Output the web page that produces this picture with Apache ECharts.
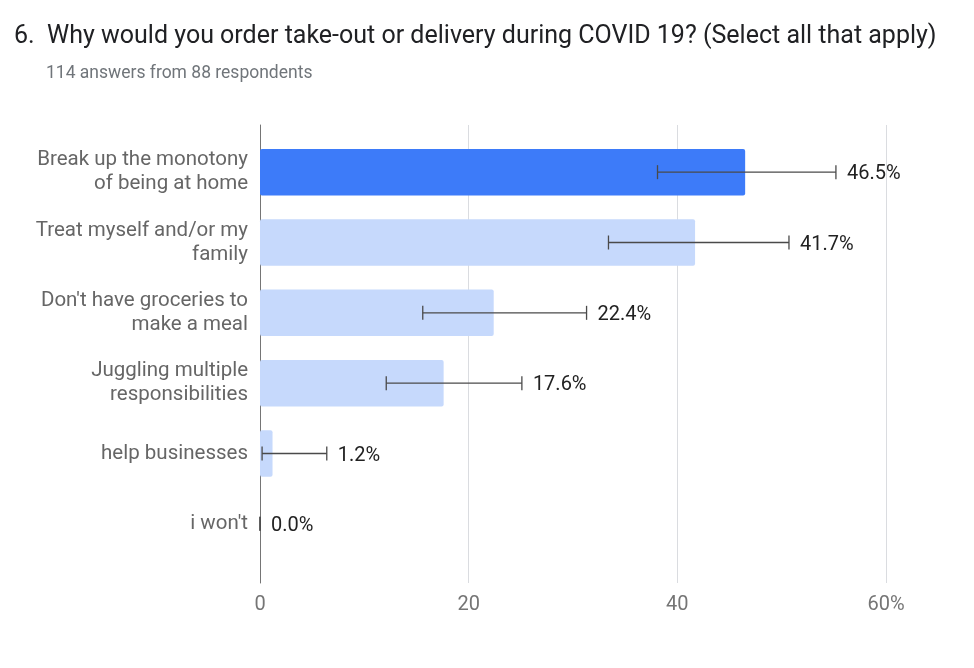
<!DOCTYPE html>
<html>
<head>
<meta charset="utf-8">
<script src="https://cdn.jsdelivr.net/npm/echarts@6/dist/echarts.min.js"></script>
<style>
html,body{margin:0;padding:0;background:#fff;}
#chart{width:974px;height:668px;}
</style>
</head>
<body>
<div id="chart"></div>
<script>
const titleText = '6.  Why would you order take-out or delivery during COVID 19? (Select all that apply)';
const subtitleText = '114 answers from 88 respondents';
const categories = [
  'Break up the monotony\nof being at home',
  'Treat myself and/or my\nfamily',
  "Don't have groceries to\nmake a meal",
  'Juggling multiple\nresponsibilities',
  'help businesses',
  "i won't"
];
const values = [46.5, 41.7, 22.4, 17.6, 1.2, 0.0];
const errLow = [38.1, 33.4, 15.6, 12.1, 0.2, 0.0];
const errHigh = [55.2, 50.7, 31.3, 25.1, 6.4, 0.0];
const xTicks = [0, 20, 40, 60];

const highlightColor = '#3d7bf9';
const lightColor = '#c6d9fc';

const barData = values.map((v, i) => ({
  value: v,
  itemStyle: { color: i === 0 ? highlightColor : lightColor }
}));
const errData = values.map((v, i) => [errLow[i], errHigh[i], i, v]);

const chart = echarts.init(document.getElementById('chart'));
chart.setOption({
  animation: false,
  backgroundColor: '#ffffff',
  title: [
    { text: titleText, left: 14, top: 24, padding: 0,
      textStyle: { fontFamily: 'Roboto', fontSize: 25, fontWeight: 'normal', color: '#202124' } },
    { text: subtitleText, left: 46, top: 65, padding: 0,
      textStyle: { fontFamily: 'Roboto', fontSize: 17.5, fontWeight: 'normal', color: '#70757a' } }
  ],
  grid: [
    { left: 260, width: 626, top: 137, height: 422 },
    { left: 260, width: 626, top: 125, height: 458 }
  ],
  xAxis: [
    { gridIndex: 0, type: 'value', min: 0, max: 60, show: false },
    { gridIndex: 1, type: 'value', min: 0, max: 60, interval: 20,
      axisLine: { show: false }, axisTick: { show: false },
      splitLine: { lineStyle: { color: '#dadce0', width: 1 } },
      axisLabel: { margin: 12, fontFamily: 'Roboto', fontSize: 20, color: '#757575',
        formatter: v => (xTicks.indexOf(v) === xTicks.length - 1 ? v + '%' : '' + v) } }
  ],
  yAxis: [
    { gridIndex: 0, type: 'category', inverse: true, data: categories,
      axisLine: { show: false }, axisTick: { show: false }, splitLine: { show: false },
      axisLabel: { margin: 12, fontFamily: 'Roboto', fontSize: 20.5, lineHeight: 24,
        color: '#666666', align: 'right', padding: [6, 0, 0, 0] } },
    { gridIndex: 1, type: 'value', min: 0, max: 1,
      axisLine: { show: true, lineStyle: { color: '#757575', width: 1 } },
      axisTick: { show: false }, axisLabel: { show: false }, splitLine: { show: false } }
  ],
  series: [
    { type: 'bar', xAxisIndex: 0, yAxisIndex: 0, data: barData,
      barCategoryGap: '34%', itemStyle: { borderRadius: 2 } },
    { type: 'custom', xAxisIndex: 0, yAxisIndex: 0, data: errData,
      encode: { x: [0, 1], y: 2 }, z: 5,
      renderItem: function (params, api) {
        const lo = api.coord([api.value(0), api.value(2)]);
        const hi = api.coord([api.value(1), api.value(2)]);
        const h = 7;
        const style = { stroke: '#4a4a4a', lineWidth: 1.3 };
        return {
          type: 'group',
          children: [
            { type: 'line', shape: { x1: lo[0], y1: lo[1], x2: hi[0], y2: hi[1] }, style: style },
            { type: 'line', shape: { x1: lo[0], y1: lo[1] - h, x2: lo[0], y2: lo[1] + h }, style: style },
            { type: 'line', shape: { x1: hi[0], y1: hi[1] - h, x2: hi[0], y2: hi[1] + h }, style: style },
            { type: 'text', x: hi[0] + 11, y: hi[1] + 2,
              style: { text: api.value(3).toFixed(1) + '%', fill: '#222222',
                font: '20px Roboto', verticalAlign: 'middle', align: 'left' } }
          ]
        };
      }
    }
  ]
});
</script>
</body>
</html>
